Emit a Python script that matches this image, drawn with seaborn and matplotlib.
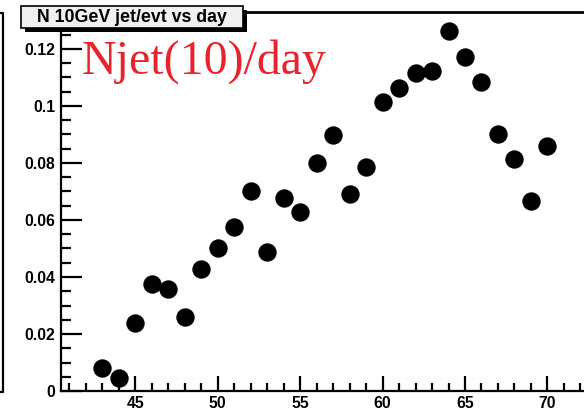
import matplotlib
matplotlib.use("Agg")
import matplotlib.pyplot as plt
from matplotlib.patches import Rectangle
from matplotlib.lines import Line2D
from matplotlib.ticker import MultipleLocator, FuncFormatter
import seaborn as sns
import pandas as pd

# Jets above 10 GeV per event, by day
days = [43, 44, 45, 46, 47, 48, 49, 50, 51, 52, 53, 54, 55, 56,
        57, 58, 59, 60, 61, 62, 63, 64, 65, 66, 67, 68, 69, 70]
njet_per_evt = [0.0082, 0.0047, 0.0240, 0.0377, 0.0359, 0.0259, 0.0429,
                0.0501, 0.0577, 0.0701, 0.0488, 0.0676, 0.0627, 0.0801,
                0.0897, 0.0690, 0.0786, 0.1014, 0.1063, 0.1115, 0.1122,
                0.1262, 0.1172, 0.1084, 0.0901, 0.0815, 0.0668, 0.0859]

hist_title = "N 10GeV jet/evt vs day"
label_text = "Njet(10)/day"

W, H = 584, 411
sns.set_theme(style="white")
plt.rcParams["font.family"] = ["Liberation Sans", "DejaVu Sans"]

fig = plt.figure(figsize=(W / 100, H / 100), dpi=100)


def fx(x):
    return x / W


def fy(y):
    return 1 - y / H


left, bottom_px, top_px = 61, 391, 12.5
x0, x1 = 40.5, 74.5
px_per_unit = 16.49
ax = fig.add_axes([fx(left), fy(bottom_px), (x1 - x0) * px_per_unit / W,
                   (bottom_px - top_px) / H])

df = pd.DataFrame({"day": days, "njet": njet_per_evt})
sns.scatterplot(data=df, x="day", y="njet", ax=ax, s=175, color="black",
                edgecolor="black", linewidth=0, zorder=3)

ax.set_xlim(x0, x1)
ax.set_ylim(0, (bottom_px - top_px) / 57 * 0.02)
ax.set_xlabel("")
ax.set_ylabel("")

ax.xaxis.set_major_locator(MultipleLocator(5))
ax.xaxis.set_minor_locator(MultipleLocator(1))
ax.yaxis.set_major_locator(MultipleLocator(0.02))
ax.yaxis.set_minor_locator(MultipleLocator(0.005))
ax.xaxis.set_major_formatter(FuncFormatter(lambda v, p: f"{v:g}" if v <= 72 else ""))
ax.yaxis.set_major_formatter(FuncFormatter(lambda v, p: "0" if abs(v) < 1e-9 else f"{v:g}"))

ax.tick_params(axis="both", which="both", direction="in", colors="black",
               bottom=True, left=True, top=False, right=False)
ax.tick_params(axis="y", which="major", length=15, width=1.6, pad=4.3,
               labelsize=11.3)
ax.tick_params(axis="y", which="minor", length=7.5, width=1.6)
ax.tick_params(axis="x", which="major", length=11, width=1.6, pad=3.5,
               labelsize=11.3)
ax.tick_params(axis="x", which="minor", length=5.5, width=1.6)
for lab in ax.get_xticklabels() + ax.get_yticklabels():
    lab.set_fontweight("bold")

for side in ["left", "bottom"]:
    ax.spines[side].set_linewidth(1.6)
    ax.spines[side].set_color("black")
ax.spines["top"].set_linewidth(2.0)
ax.spines["top"].set_color("black")
ax.spines["right"].set_visible(False)

# Bracket of the neighbouring pad on the far left
fig.add_artist(Line2D([fx(0), fx(3), fx(3), fx(0)],
                      [fy(13), fy(13), fy(392), fy(392)],
                      transform=fig.transFigure, color="black", lw=1.6))

# Histogram title box with drop shadow
bx0, by0, bx1, by1 = 21, 6, 243, 28
shadow = Rectangle((fx(bx0 + 4), fy(by1 + 4)), (bx1 - bx0) / W,
                   (by1 - by0) / H, transform=fig.transFigure,
                   facecolor="black", edgecolor="none", zorder=5)
fig.patches.append(shadow)
box = Rectangle((fx(bx0), fy(by1)), (bx1 - bx0) / W, (by1 - by0) / H,
                transform=fig.transFigure, facecolor="#f0f0f0",
                edgecolor="black", lw=1.2, zorder=6)
fig.patches.append(box)
fig.text(fx((bx0 + bx1) / 2), fy((by0 + by1) / 2 + 0.5), hist_title,
         ha="center", va="center", fontsize=12.8, fontweight="bold",
         color="black", zorder=7)

# Red annotation
fig.text(fx(82), fy(73.5), label_text, ha="left", va="baseline",
         fontsize=34.5, color="#e8232b", family=["Liberation Serif", "DejaVu Serif"],
         zorder=7)

fig.savefig("out.png", dpi=100)
